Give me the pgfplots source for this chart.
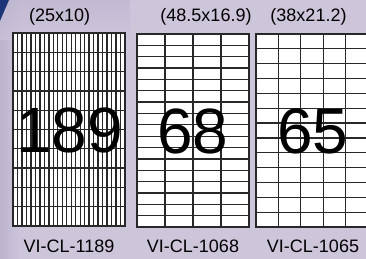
\documentclass[border=0pt]{standalone}
\usepackage{pgfplots}
\pgfplotsset{compat=1.18}
\usepackage{fontspec}
\setmainfont{Liberation Sans}
\definecolor{bg}{RGB}{205,197,218}
\definecolor{bgdark}{RGB}{188,180,206}
\definecolor{navy}{RGB}{30,52,120}
\definecolor{gridc}{RGB}{40,40,40}
\pgfplotsset{
  sheet/.style={
    anchor=north west, scale only axis,
    width=112pt, height=193pt,
    xmin=0, ymin=0,
    grid=major,
    major grid style={line width=1.3pt, color=gridc},
    axis line style={line width=1.5pt, color=gridc},
    xticklabels={}, yticklabels={},
    major tick length=0pt,
    axis background/.style={fill=white},
    clip=false,
  }
}
\begin{document}
\begin{tikzpicture}
\path[use as bounding box] (0,0) rectangle (366pt,-259pt);
\clip (0,0) rectangle (366pt,-259pt);
\fill[bg] (0,0) rectangle (366pt,-259pt);
\shade[left color=bgdark, right color=bg] (0,0) rectangle (20pt,-259pt);
\shade[top color=bgdark, bottom color=bg, opacity=0.6] (0,0) rectangle (130pt,-40pt);
\fill[navy] (0,0) -- (9pt,0) .. controls (6pt,-7pt) and (3pt,-14pt) .. (0,-21pt) -- cycle;

% Sheet 1: 25 x 10 grid
\begin{axis}[sheet, at={(13pt,-33pt)}, xmax=25, ymax=10,
  xtick={0,1,...,25}, ytick={0,1,...,10},
  major grid style={line width=1.35pt, color=gridc}]
  \addplot[draw=none] coordinates {(0,0) (25,10)};
  \node[font=\fontsize{64}{64}\selectfont, anchor=base] at (rel axis cs:0.505,0.383) {189};
\end{axis}

% Sheet 2: 4 x 17 grid
\begin{axis}[sheet, at={(137pt,-34pt)}, xmax=4, ymax=17,
  xtick={0,1,...,4}, ytick={0,1,...,17}]
  \addplot[draw=none] coordinates {(0,0) (4,17)};
  \node[font=\fontsize{64}{64}\selectfont, anchor=base] at (rel axis cs:0.5,0.383) {68};
\end{axis}

% Sheet 3: 5 x 13 grid
\begin{axis}[sheet, at={(256pt,-34pt)}, xmax=5, ymax=13,
  xtick={0,1,...,5}, ytick={0,1,...,13}]
  \addplot[draw=none] coordinates {(0,0) (5,13)};
  \node[font=\fontsize{64}{64}\selectfont, anchor=base] at (rel axis cs:0.506,0.383) {65};
\end{axis}

\node[font=\fontsize{18}{18}\selectfont, anchor=base] at (59.7pt,-21.5pt) {(25x10)};
\node[font=\fontsize{18}{18}\selectfont, anchor=base] at (206pt,-21.5pt) {(48.5x16.9)};
\node[font=\fontsize{18}{18}\selectfont, anchor=base] at (308.5pt,-21.5pt) {(38x21.2)};

\node[font=\fontsize{18}{18}\selectfont, anchor=base] at (69pt,-252pt) {VI-CL-1189};
\node[font=\fontsize{18}{18}\selectfont, anchor=base] at (193pt,-252pt) {VI-CL-1068};
\node[font=\fontsize{18}{18}\selectfont, anchor=base] at (313pt,-252pt) {VI-CL-1065};
\end{tikzpicture}
\end{document}
